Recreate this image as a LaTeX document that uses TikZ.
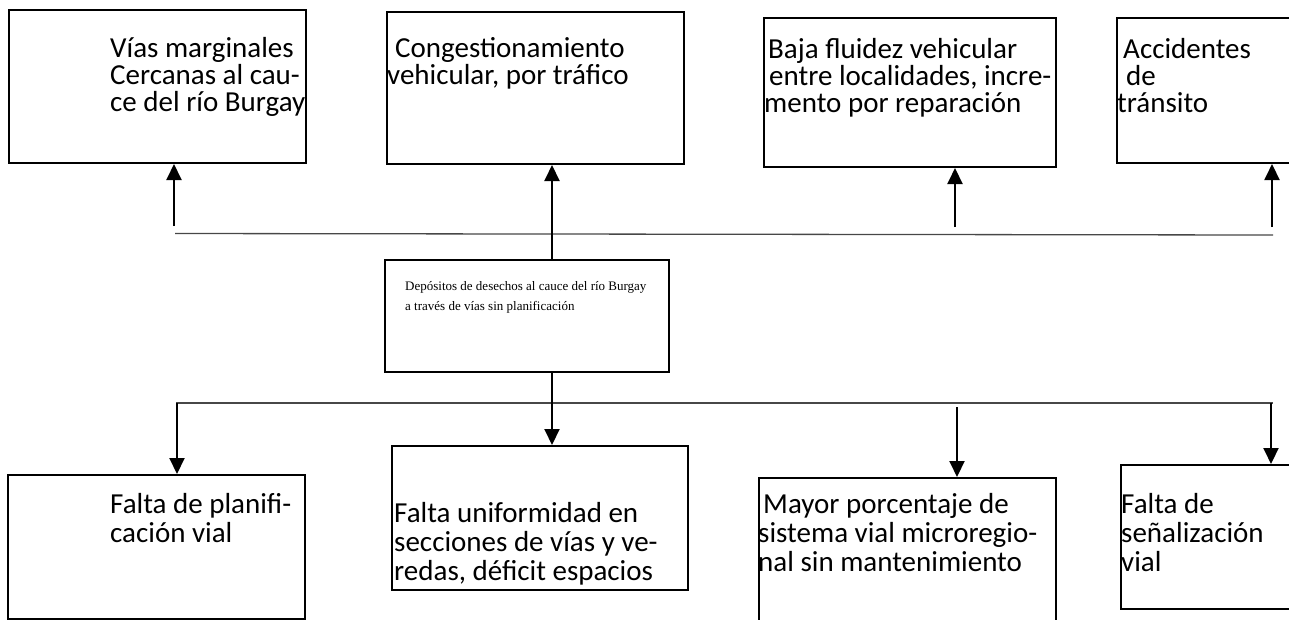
\documentclass[tikz,border=0pt]{standalone}
\usepackage{fontspec}
\setmainfont{Carlito}
\newfontfamily\timesfam{Liberation Serif}
\usetikzlibrary{arrows.meta}
\newcommand{\toptext}[1]{\parbox[t]{320pt}{\fontsize{29}{27}\selectfont #1}}
\newcommand{\bottext}[1]{\parbox[t]{320pt}{\fontsize{29}{29}\selectfont #1}}
\begin{document}
\begin{tikzpicture}[x=1pt,y=-1pt,
  box/.style={draw, line width=2pt, inner sep=0pt, anchor=north west},
  txt/.style={anchor=base west, inner sep=0pt},
  conn/.style={line width=1.3pt, draw=black!72},
  arr/.style={line width=2pt, -{Triangle[width=15pt,length=16pt]}}]
\useasboundingbox (0,0) rectangle (1289,619);
% top boxes
\node[box, minimum width=297pt, minimum height=153pt] (A1) at (8,9) {};
\node[box, minimum width=297pt, minimum height=152pt] (A2) at (386,11) {};
\node[box, minimum width=292pt, minimum height=149pt] (A3) at (763,17) {};
\node[box, minimum width=190pt, minimum height=145pt] (A4) at (1116,17) {};
% centre box
\node[box, minimum width=284pt, minimum height=112pt] (C) at (384,259) {};
% bottom boxes
\node[box, minimum width=297pt, minimum height=144pt] (B1) at (7,474) {};
\node[box, minimum width=296pt, minimum height=144pt] (B2) at (391,445) {};
\node[box, minimum width=297pt, minimum height=150pt] (B3) at (758,477) {};
\node[box, minimum width=190pt, minimum height=144pt] (B4) at (1120,464) {};
% texts
\node[txt] (tA1) at (110,57) {\toptext{Vías marginales\\Cercanas al cau-\\ce del río Burgay}};
\node[txt] (tA2) at (387,57) {\toptext{\hspace*{8pt}Congestionamiento\\vehicular, por tráfico}};
\node[txt] (tA3) at (764,58) {\toptext{\hspace*{4pt}Baja fluidez vehicular\\\hspace*{5pt}entre localidades, incre-\\mento por reparación}};
\node[txt] (tA4) at (1117,58) {\toptext{\hspace*{6pt}Accidentes\\\hspace*{9pt}de\\tránsito}};
\node[txt] (tC) at (405,290) {\parbox[t]{300pt}{\timesfam\fontsize{13}{20}\selectfont Depósitos de desechos al cauce del río Burgay\\a través de vías sin planificación}};
\node[txt] (tB1) at (110,513) {\bottext{Falta de planifi-\\cación vial}};
\node[txt] (tB2) at (394,522) {\bottext{Falta uniformidad en\\secciones de vías y ve-\\redas, déficit espacios}};
\node[txt] (tB3) at (758,513) {\bottext{\hspace*{5pt}Mayor porcentaje de\\sistema vial microregio-\\nal sin mantenimiento}};
\node[txt] (tB4) at (1121,513) {\bottext{Falta de\\señalización\\vial}};
% connector lines
\coordinate (tl) at (175,233.5);
\coordinate (tr) at (1273,235);
\coordinate (bl) at (176,403);
\coordinate (br) at (1273,403);
\draw[conn] (tl) -- (tr);
\draw[conn] (bl) -- (br);
% top arrows
\coordinate (p1) at (174,226);
\coordinate (p3) at (955,227);
\coordinate (p4) at (1272,227);
\coordinate (m) at (552,0);
\draw[arr] (p1) -- (p1 |- A1.south);
\draw[arr] (C.north -| m) -- (A2.south -| m);
\draw[arr] (p3) -- (p3 |- A3.south);
\draw[arr] (p4) -- (p4 |- A4.south);
% bottom arrows
\coordinate (q1) at (177,403);
\coordinate (q3) at (957,407);
\coordinate (q4) at (1271,403);
\draw[arr] (q1) -- (q1 |- B1.north);
\draw[arr] (C.south -| m) -- (B2.north -| m);
\draw[arr] (q3) -- (q3 |- B3.north);
\draw[arr] (q4) -- (q4 |- B4.north);
\end{tikzpicture}
\end{document}
